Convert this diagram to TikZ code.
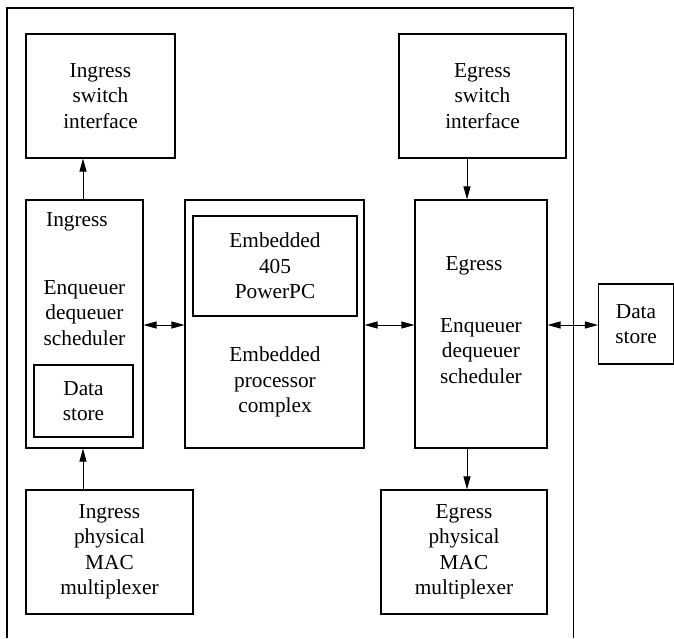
\documentclass[tikz,border=0pt]{standalone}
\usepackage{fontspec}
\setmainfont{Liberation Serif}
\usetikzlibrary{arrows.meta}
\begin{document}
\begin{tikzpicture}[x=1pt,y=-1pt,
  line width=1.1pt,
  every node/.style={font=\fontsize{21.3}{25.5}\selectfont, align=center, inner sep=0pt},
  blk/.style={draw, rectangle, minimum width=#1},
  lbl/.style={},
  tip/.tip={Triangle[length=13pt,width=7pt]},
  arr/.style={line width=0.9pt, -tip},
  darr/.style={line width=0.9pt, tip-tip}]
\useasboundingbox (0,0) rectangle (674,638);
% enclosing frame, open at the bottom
\draw (7,638) -- (7,8) -- (573.5,8) -- (573.5,638);
% blocks
\node[blk=149, minimum height=124] (isw) at (100.5,96) {Ingress\\switch\\interface};
\node[blk=167, minimum height=124] (esw) at (482.5,96) {Egress\\switch\\interface};
\node[blk=117, minimum height=248] (ing) at (84.5,324) {};
\node[blk=99, minimum height=72] (ids) at (83.5,401) {Data\\store};
\node[blk=179, minimum height=248] (epc) at (274.5,324) {};
\node[blk=164, minimum height=100] (ppc) at (275,266) {Embedded\\405\\PowerPC};
\node[blk=132, minimum height=248] (egr) at (481,324) {};
\node[blk=75, minimum height=80] (eds) at (636,324) {Data\\store};
\node[blk=167, minimum height=124] (imac) at (109.5,552) {Ingress\\physical\\MAC\\multiplexer};
\node[blk=166, minimum height=124] (emac) at (464,552) {Egress\\physical\\MAC\\multiplexer};
% labels inside the large blocks
\node[lbl] (ingT) at (77,222) {Ingress};
\node[lbl] (ingQ) at (84.5,313) {Enqueuer\\dequeuer\\scheduler};
\node[lbl] (epcT) at (275,382) {Embedded\\processor\\complex};
\node[lbl] (egrT) at (474,266) {Egress};
\node[lbl] (egrQ) at (481,351) {Enqueuer\\dequeuer\\scheduler};
% connectors
\draw[arr] (ing.north -| 83,0) -- (isw.south -| 83,0);
\draw[arr] (imac.north -| 83,0) -- (ing.south -| 83,0);
\draw[arr] (esw.south -| 467,0) -- (egr.north -| 467,0);
\draw[arr] (egr.south -| 467,0) -- (emac.north -| 467,0);
\draw[darr] (ing.east |- 0,325) -- (epc.west |- 0,325);
\draw[darr] (epc.east |- 0,325) -- (egr.west |- 0,325);
\draw[darr] (egr.east |- 0,325) -- (eds.west |- 0,325);
\end{tikzpicture}
\end{document}
